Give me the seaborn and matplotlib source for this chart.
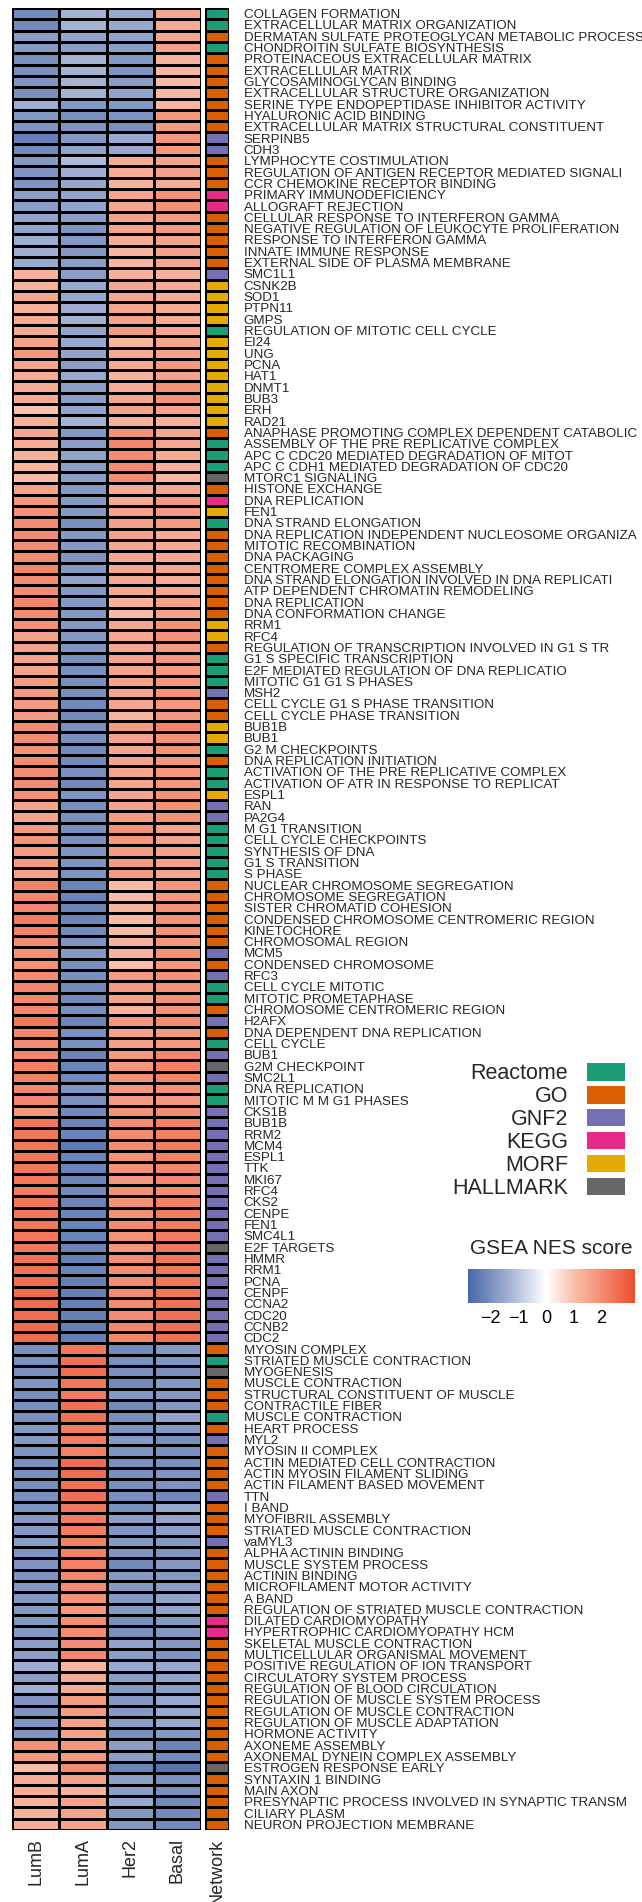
import numpy as np
import pandas as pd
import matplotlib.pyplot as plt
import seaborn as sns
from matplotlib.colors import LinearSegmentedColormap, ListedColormap, Normalize
from matplotlib.cm import ScalarMappable
from matplotlib.patches import Patch

sns.set_style("white")
plt.rcParams['font.family'] = ['Liberation Sans', 'DejaVu Sans']

# column / category names
subtypes = ["LumB", "LumA", "Her2", "Basal"]
net_names = ["Reactome", "GO", "GNF2", "KEGG", "MORF", "HALLMARK"]
net_colors = ["#1B9E77", "#D95F02", "#7570B3", "#E7298A", "#E6AB02", "#666666"]
code = {"R": "Reactome", "G": "GO", "N": "GNF2", "K": "KEGG", "M": "MORF", "H": "HALLMARK"}

pathways = [
    "COLLAGEN FORMATION", "EXTRACELLULAR MATRIX ORGANIZATION",
    "DERMATAN SULFATE PROTEOGLYCAN METABOLIC PROCESS", "CHONDROITIN SULFATE BIOSYNTHESIS",
    "PROTEINACEOUS EXTRACELLULAR MATRIX", "EXTRACELLULAR MATRIX", "GLYCOSAMINOGLYCAN BINDING",
    "EXTRACELLULAR STRUCTURE ORGANIZATION", "SERINE TYPE ENDOPEPTIDASE INHIBITOR ACTIVITY",
    "HYALURONIC ACID BINDING", "EXTRACELLULAR MATRIX STRUCTURAL CONSTITUENT", "SERPINB5", "CDH3",
    "LYMPHOCYTE COSTIMULATION", "REGULATION OF ANTIGEN RECEPTOR MEDIATED SIGNALI",
    "CCR CHEMOKINE RECEPTOR BINDING", "PRIMARY IMMUNODEFICIENCY", "ALLOGRAFT REJECTION",
    "CELLULAR RESPONSE TO INTERFERON GAMMA", "NEGATIVE REGULATION OF LEUKOCYTE PROLIFERATION",
    "RESPONSE TO INTERFERON GAMMA", "INNATE IMMUNE RESPONSE", "EXTERNAL SIDE OF PLASMA MEMBRANE",
    "SMC1L1", "CSNK2B", "SOD1", "PTPN11", "GMPS", "REGULATION OF MITOTIC CELL CYCLE",
    "EI24", "UNG", "PCNA", "HAT1", "DNMT1", "BUB3", "ERH", "RAD21",
    "ANAPHASE PROMOTING COMPLEX DEPENDENT CATABOLIC", "ASSEMBLY OF THE PRE REPLICATIVE COMPLEX",
    "APC C CDC20 MEDIATED DEGRADATION OF MITOT", "APC C CDH1 MEDIATED DEGRADATION OF CDC20",
    "MTORC1 SIGNALING", "HISTONE EXCHANGE", "DNA REPLICATION", "FEN1", "DNA STRAND ELONGATION",
    "DNA REPLICATION INDEPENDENT NUCLEOSOME ORGANIZA", "MITOTIC RECOMBINATION", "DNA PACKAGING",
    "CENTROMERE COMPLEX ASSEMBLY", "DNA STRAND ELONGATION INVOLVED IN DNA REPLICATI",
    "ATP DEPENDENT CHROMATIN REMODELING", "DNA REPLICATION", "DNA CONFORMATION CHANGE",
    "RRM1", "RFC4", "REGULATION OF TRANSCRIPTION INVOLVED IN G1 S TR", "G1 S SPECIFIC TRANSCRIPTION",
    "E2F MEDIATED REGULATION OF DNA REPLICATIO", "MITOTIC G1 G1 S PHASES", "MSH2",
    "CELL CYCLE G1 S PHASE TRANSITION", "CELL CYCLE PHASE TRANSITION", "BUB1B", "BUB1",
    "G2 M CHECKPOINTS", "DNA REPLICATION INITIATION", "ACTIVATION OF THE PRE REPLICATIVE COMPLEX",
    "ACTIVATION OF ATR IN RESPONSE TO REPLICAT", "ESPL1", "RAN", "PA2G4", "M G1 TRANSITION",
    "CELL CYCLE CHECKPOINTS", "SYNTHESIS OF DNA", "G1 S TRANSITION", "S PHASE",
    "NUCLEAR CHROMOSOME SEGREGATION", "CHROMOSOME SEGREGATION", "SISTER CHROMATID COHESION",
    "CONDENSED CHROMOSOME CENTROMERIC REGION", "KINETOCHORE", "CHROMOSOMAL REGION", "MCM5",
    "CONDENSED CHROMOSOME", "RFC3", "CELL CYCLE MITOTIC", "MITOTIC PROMETAPHASE",
    "CHROMOSOME CENTROMERIC REGION", "H2AFX", "DNA DEPENDENT DNA REPLICATION", "CELL CYCLE",
    "BUB1", "G2M CHECKPOINT", "SMC2L1", "DNA REPLICATION", "MITOTIC M M G1 PHASES",
    "CKS1B", "BUB1B", "RRM2", "MCM4", "ESPL1", "TTK", "MKI67", "RFC4", "CKS2", "CENPE", "FEN1",
    "SMC4L1", "E2F TARGETS", "HMMR", "RRM1", "PCNA", "CENPF", "CCNA2", "CDC20", "CCNB2", "CDC2",
    "MYOSIN COMPLEX", "STRIATED MUSCLE CONTRACTION", "MYOGENESIS", "MUSCLE CONTRACTION",
    "STRUCTURAL CONSTITUENT OF MUSCLE", "CONTRACTILE FIBER", "MUSCLE CONTRACTION", "HEART PROCESS",
    "MYL2", "MYOSIN II COMPLEX", "ACTIN MEDIATED CELL CONTRACTION", "ACTIN MYOSIN FILAMENT SLIDING",
    "ACTIN FILAMENT BASED MOVEMENT", "TTN", "I BAND", "MYOFIBRIL ASSEMBLY",
    "STRIATED MUSCLE CONTRACTION", "vaMYL3", "ALPHA ACTININ BINDING", "MUSCLE SYSTEM PROCESS",
    "ACTININ BINDING", "MICROFILAMENT MOTOR ACTIVITY", "A BAND",
    "REGULATION OF STRIATED MUSCLE CONTRACTION", "DILATED CARDIOMYOPATHY",
    "HYPERTROPHIC CARDIOMYOPATHY HCM", "SKELETAL MUSCLE CONTRACTION",
    "MULTICELLULAR ORGANISMAL MOVEMENT", "POSITIVE REGULATION OF ION TRANSPORT",
    "CIRCULATORY SYSTEM PROCESS", "REGULATION OF BLOOD CIRCULATION",
    "REGULATION OF MUSCLE SYSTEM PROCESS", "REGULATION OF MUSCLE CONTRACTION",
    "REGULATION OF MUSCLE ADAPTATION", "HORMONE ACTIVITY", "AXONEME ASSEMBLY",
    "AXONEMAL DYNEIN COMPLEX ASSEMBLY", "ESTROGEN RESPONSE EARLY", "SYNTAXIN 1 BINDING",
    "MAIN AXON", "PRESYNAPTIC PROCESS INVOLVED IN SYNAPTIC TRANSM", "CILIARY PLASM",
    "NEURON PROJECTION MEMBRANE",
]

network = (
    "R R G R G G G G G G G N N "
    "G G G K K G G G G G N M M "
    "M M R M M M M M M M M G R "
    "R R H G K M R G G G G G G G "
    "G M M G R R R N G G M M R "
    "G R R M N N R R R R R G G "
    "G G G G N G N R R G N G R "
    "N H N R R N N N N N N N N N N N N H N N N N N N N N G "
    "R H G G G R G N G G G G N G "
    "G G N G G G G G G K K G G "
    "G G G G G G G G G H G G G G G"
).split()

# GSEA NES per subtype
lumb = [-2.1, -2.1, -1.7, -1.8, -2.0, -2.0, -1.9, -2.0, -1.4, -1.8, -1.9, -2.3, -2.1,
        -1.8, -1.9, -1.9, -1.7, -1.7, -1.6, -1.6, -1.4, -1.4, -1.5, 1.3, 1.3, 1.5,
        1.3, 1.4, 1.4, 1.6, 1.8, 1.5, 1.4, 1.4, 1.4, 1.0, 1.3, 1.5, 1.4,
        1.3, 1.2, 1.1, 1.6, 1.8, 1.9, 2.0, 2.0, 2.0, 2.0, 2.1, 2.0, 2.0, 2.1,
        2.0, 1.9, 1.6, 1.6, 1.6, 1.6, 1.7, 1.7, 1.7, 1.7, 2.0, 2.0, 1.9,
        2.0, 2.0, 2.0, 1.9, 1.6, 1.6, 1.7, 1.9, 1.7, 1.7, 1.6, 2.2, 2.1,
        2.1, 2.3, 2.2, 2.0, 1.9, 1.9, 2.0, 2.1, 2.1, 2.1, 2.4, 2.1, 2.0,
        2.1, 2.2, 2.2, 2.1, 2.1, 1.8, 2.4, 2.4, 2.4, 2.4, 2.4, 2.4, 2.3, 2.4,
        2.4, 2.4, 2.4, 2.4, 2.5, 2.5, 2.6, 2.6, 2.6, 2.6, 2.6, 2.6, -2.0,
        -2.0, -2.0, -1.9, -2.0, -2.0, -2.0, -1.8, -1.8, -1.9, -2.0, -2.0, -2.0, -2.0, -1.9,
        -1.8, -1.8, -1.7, -1.9, -1.9, -1.9, -1.8, -1.8, -1.8, -1.8, -1.8, -1.7, -1.7,
        -1.4, -1.7, -1.4, -1.9, -1.9, -1.9, -1.9, 1.9, 1.7, 1.1, 1.4, 1.4, 1.3, 1.3, 1.4]
luma = [-1.3, -1.3, -1.6, -1.7, -1.3, -1.3, -1.3, -1.3, -1.8, -2.0, -1.9, -1.8, -1.6,
        -1.2, -1.4, -1.5, -1.6, -1.6, -1.7, -1.9, -1.8, -1.8, -1.7, -1.7, -1.5, -1.5,
        -1.4, -1.3, -1.6, -1.5, -1.6, -1.7, -1.5, -1.7, -1.7, -1.6, -1.3, -1.8, -1.7,
        -1.6, -1.7, -1.7, -1.8, -1.8, -1.8, -2.0, -1.8, -1.8, -1.9, -1.8, -1.6, -1.8, -1.8,
        -1.8, -1.8, -1.8, -1.9, -2.0, -2.0, -2.0, -2.0, -2.1, -2.1, -2.0, -2.0, -2.1,
        -2.1, -2.0, -2.1, -1.9, -2.0, -2.0, -2.0, -2.0, -1.9, -1.9, -1.9, -2.2, -2.2,
        -2.2, -2.2, -2.1, -1.9, -1.8, -2.0, -2.0, -2.1, -2.1, -2.0, -2.2, -2.0, -2.0,
        -2.2, -2.2, -2.1, -1.9, -2.0, -2.1, -2.2, -2.2, -2.4, -2.2, -2.2, -2.2, -2.1, -2.2,
        -2.2, -2.2, -2.2, -2.2, -2.3, -2.2, -2.3, -2.3, -2.3, -2.3, -2.3, -2.3, 2.4,
        2.5, 2.6, 2.4, 2.3, 2.5, 2.5, 2.3, 2.3, 2.2, 2.6, 2.6, 2.5, 2.5, 2.4,
        2.3, 2.3, 2.2, 2.2, 2.2, 2.1, 2.0, 1.9, 1.8, 2.0, 2.0, 2.0, 2.1,
        1.2, 1.4, 1.4, 1.7, 1.7, 1.6, 1.6, 1.8, 1.7, 2.0, 1.6, 1.3, 1.6, 1.6, 1.6]
her2 = [-1.5, -1.5, -1.6, -1.7, -1.8, -1.9, -1.7, -1.6, -1.8, -1.9, -2.0, -1.5, -1.5,
        1.4, 1.4, 1.3, 1.5, 1.5, 1.6, 1.6, 1.4, 1.2, 1.2, 1.3, 1.5, 1.5,
        1.5, 1.6, 1.7, 1.2, 1.4, 1.4, 1.3, 1.4, 1.5, 1.6, 1.3, 1.9, 2.1,
        2.0, 2.0, 2.0, 1.4, 1.4, 1.6, 1.6, 1.6, 1.5, 1.5, 1.5, 1.5, 1.5, 1.3,
        1.1, 1.5, 1.5, 1.5, 1.6, 1.6, 1.6, 1.5, 1.5, 1.2, 1.7, 1.6, 1.6,
        1.6, 1.5, 1.5, 1.5, 1.6, 1.7, 1.9, 1.8, 1.7, 1.7, 1.7, 1.1, 1.1,
        1.2, 1.1, 1.1, 1.3, 1.3, 1.0, 1.7, 1.7, 1.6, 1.3, 1.8, 1.6, 1.6,
        1.7, 1.8, 1.9, 1.8, 1.7, 1.9, 2.0, 2.0, 2.0, 1.9, 1.9, 1.8, 1.9, 1.9,
        1.9, 2.0, 1.9, 1.8, 2.0, 2.0, 2.0, 2.0, 2.0, 2.0, 2.1, 2.1, -2.1,
        -2.0, -2.0, -2.1, -1.8, -2.1, -2.0, -1.9, -1.8, -1.9, -2.0, -2.0, -2.0, -2.0, -2.0,
        -1.7, -1.9, -1.8, -1.9, -2.1, -1.8, -1.8, -1.8, -1.8, -2.0, -2.0, -1.6, -1.7,
        -1.5, -1.7, -1.8, -1.8, -1.8, -1.7, -2.0, -1.7, -1.7, -2.2, -1.7, -1.7, -1.5, -1.8, -1.8]
basal = [1.5, 1.4, 1.5, 1.6, 1.3, 1.2, 1.1, 1.2, 1.2, 1.8, 1.7, 1.8, 1.8,
         1.6, 1.6, 1.4, 1.9, 1.9, 1.7, 1.7, 1.6, 1.6, 1.5, 1.3, 1.4, 1.4,
         1.4, 1.4, 1.5, 1.5, 1.6, 1.7, 1.6, 1.9, 1.9, 1.6, 1.3, 1.5, 1.5,
         1.4, 1.3, 1.2, 1.5, 1.7, 1.7, 1.7, 1.4, 1.4, 1.5, 1.5, 1.4, 1.5, 1.6,
         1.6, 1.9, 1.9, 1.7, 1.8, 1.8, 1.8, 1.9, 1.8, 1.8, 2.1, 1.9, 1.9,
         1.8, 1.8, 1.8, 1.9, 1.9, 1.9, 1.6, 1.6, 1.6, 1.6, 1.5, 1.8, 1.8,
         1.9, 1.9, 1.9, 1.8, 1.9, 1.8, 1.9, 1.9, 1.9, 1.9, 2.0, 1.7, 1.8,
         2.1, 2.2, 2.1, 1.9, 1.8, 2.0, 2.2, 2.2, 2.3, 2.2, 2.1, 2.1, 2.0, 2.2,
         2.3, 2.3, 2.3, 2.4, 2.4, 2.4, 2.4, 2.4, 2.5, 2.5, 2.5, 2.5, -1.8,
         -1.9, -2.0, -1.8, -1.8, -1.8, -1.6, -1.8, -2.0, -2.0, -2.0, -1.9, -1.9, -2.1, -1.5,
         -1.6, -1.7, -1.8, -1.9, -1.8, -1.8, -1.7, -1.6, -1.6, -1.8, -1.8, -1.8, -1.9,
         -1.5, -1.6, -1.7, -1.5, -1.5, -1.5, -1.8, -2.2, -2.1, -2.5, -2.0, -2.0, -2.1, -2.1, -2.1]

nes = pd.DataFrame({"LumB": lumb, "LumA": luma, "Her2": her2, "Basal": basal}, index=pathways)
net = pd.DataFrame({"Network": [net_names.index(code[c]) for c in network]}, index=pathways)

# colour scale: blue - white(0) - red, linear in NES
vmin, vmax = -2.8, 3.2
stops = [(-2.8, "#4767A6"), (-1.3, "#A5B3D5"), (0.0, "#FFFFFF"), (1.1, "#F9BBA5"), (3.2, "#EC4E2E")]
cmap = LinearSegmentedColormap.from_list("nes", [((v - vmin) / (vmax - vmin), c) for v, c in stops])
norm = Normalize(vmin=vmin, vmax=vmax)

W, H = 642, 1902
fig = plt.figure(figsize=(W / 100, H / 100), dpi=100)
top, bot = 8, 1830
ax = fig.add_axes([12 / W, 1 - bot / H, 189 / W, (bot - top) / H])
axn = fig.add_axes([205 / W, 1 - bot / H, 24 / W, (bot - top) / H])

sns.heatmap(nes, ax=ax, cmap=cmap, norm=norm, cbar=False, linewidths=0.8, linecolor="black",
            xticklabels=True, yticklabels=False)
ax.set_xticklabels(subtypes, rotation=90, fontsize=13)
ax.tick_params(axis="x", length=0, pad=6)
ax.set_ylabel("")

sns.heatmap(net, ax=axn, cmap=ListedColormap(net_colors), vmin=-0.5, vmax=5.5, cbar=False,
            linewidths=0.8, linecolor="black", xticklabels=True, yticklabels=True)
axn.yaxis.tick_right()
axn.set_yticks(np.arange(len(pathways)) + 0.5)
axn.set_yticklabels(pathways, rotation=0, fontsize=9.6)
axn.tick_params(axis="y", length=0, pad=10.5)
axn.set_xticklabels(["Network"], rotation=90, fontsize=13)
axn.tick_params(axis="x", length=0, pad=6)
axn.set_ylabel("")

# network legend
handles = [Patch(facecolor=c, edgecolor="none", label=n) for n, c in zip(net_names, net_colors)]
fig.legend(handles=handles, loc="upper right", bbox_to_anchor=(625 / W, 1 - 1063 / H),
           markerfirst=False, frameon=False, fontsize=15.5, handlelength=1.77, handleheight=0.88,
           handletextpad=0.88, labelspacing=0.08, borderpad=0, borderaxespad=0)

# NES colour bar
fig.text(551 / W, 1 - 1249 / H, "GSEA NES score", ha="center", va="center", fontsize=15)
cax = fig.add_axes([468 / W, 1 - 1303 / H, 167 / W, 34 / H])
cb = fig.colorbar(ScalarMappable(norm=norm, cmap=cmap), cax=cax, orientation="horizontal")
cb.outline.set_visible(False)
cb.set_ticks([-2, -1, 0, 1, 2])
cax.tick_params(axis="x", which="both", direction="in", colors="white", labelcolor="black",
                length=4.5, width=1, top=True, bottom=True, labelsize=13, pad=5)

fig.savefig("out.png", dpi=100)
